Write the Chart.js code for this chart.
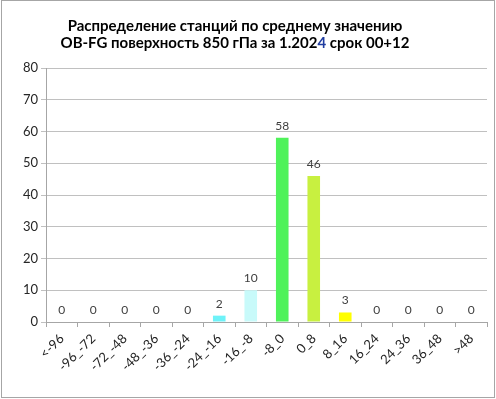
<!DOCTYPE html>
<html>
<head>
<meta charset="utf-8">
<script src="https://cdn.jsdelivr.net/npm/chart.js@4"></script>
<style>
  body { margin: 0; background: #fff; }
  #wrap { position: relative; width: 496px; height: 399px; overflow: hidden; }
  #chart { position: absolute; left: 0; top: 0; }
  #title {
    position: absolute; left: 0; top: 17px; width: 470px;
    text-align: center; font-family: Lato, sans-serif; font-weight: bold;
    font-size: 15px; line-height: 17px; color: #000;
  }
  #title .hl { color: #1f3ca0; }
  #frame {
    position: absolute; left: 1px; top: 0px; width: 494px; height: 398px;
    box-sizing: border-box; border: 1px solid #a6a6a6; pointer-events: none;
  }
</style>
</head>
<body>
<div id="wrap">
  <canvas id="chart" width="496" height="399"></canvas>
  <div id="title">Распределение станций по среднему значению<br>OB-FG поверхность 850 гПа за 1.202<span class="hl">4</span> срок 00+12</div>
  <div id="frame"></div>
</div>
<script>
// categories (bins) and counts
const categories = ["<-96", "-96_-72", "-72_-48", "-48_-36", "-36_-24", "-24_-16", "-16_-8",
                    "-8_0", "0_8", "8_16", "16_24", "24_36", "36_48", ">48"];
const counts = [0, 0, 0, 0, 0, 2, 10, 58, 46, 3, 0, 0, 0, 0];
const barColors = ["#6ef2f8", "#6ef2f8", "#6ef2f8", "#6ef2f8", "#6ef2f8", "#6ef2f8", "#c8fafa",
                   "#4ff25a", "#c8f040", "#ffff00", "#ffff00", "#ffff00", "#ffff00", "#ffff00"];
const yTicks = [0, 10, 20, 30, 40, 50, 60, 70, 80];

// draw value above every bar
const valueLabels = {
    id: "valueLabels",
    afterDatasetsDraw(chart) {
        const ctx = chart.ctx;
        const meta = chart.getDatasetMeta(0);
        ctx.save();
        ctx.font = "12px Lato, sans-serif";
        ctx.fillStyle = "#404040";
        ctx.textAlign = "center";
        ctx.textBaseline = "middle";
        meta.data.forEach((bar, i) => {
            ctx.fillText(String(counts[i]), bar.x, bar.y - 12);
        });
        ctx.restore();
    }
};

window.onload = function() {
    const ctx = document.getElementById("chart").getContext("2d");
    new Chart(ctx, {
        type: "bar",
        data: {
            labels: categories,
            datasets: [{
                data: counts,
                backgroundColor: barColors,
                borderWidth: 0,
                categoryPercentage: 1,
                barPercentage: 0.4
            }]
        },
        options: {
            responsive: false,
            animation: false,
            devicePixelRatio: 1,
            layout: { padding: { top: 68, right: 9, left: 0, bottom: 0 } },
            plugins: {
                legend: { display: false },
                tooltip: { enabled: false },
                title: { display: false }
            },
            scales: {
                x: {
                    offset: true,
                    grid: {
                        offset: true,
                        drawOnChartArea: false,
                        drawTicks: true,
                        tickLength: 5,
                        color: "#a6a6a6"
                    },
                    border: { color: "#a6a6a6" },
                    ticks: {
                        color: "#262626",
                        font: { family: "Lato, sans-serif", size: 13 },
                        minRotation: 45,
                        maxRotation: 45,
                        autoSkip: false,
                        padding: 4
                    },
                    afterFit(scale) { scale.height = 77; }
                },
                y: {
                    min: 0,
                    max: 80,
                    afterBuildTicks(scale) { scale.ticks = yTicks.map(v => ({ value: v })); },
                    grid: { color: "#c0c0c0", tickLength: 5 },
                    border: { color: "#a6a6a6" },
                    ticks: {
                        color: "#262626",
                        font: { family: "Lato, sans-serif", size: 13 },
                        padding: 3
                    },
                    afterFit(scale) { scale.width = 46; }
                }
            }
        },
        plugins: [valueLabels]
    });
};
</script>
</body>
</html>
